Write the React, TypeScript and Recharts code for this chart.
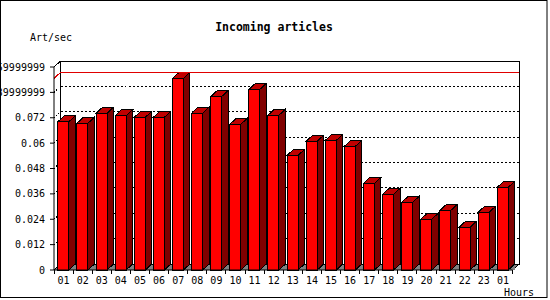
import React from 'react';
import { BarChart, Bar, XAxis, YAxis, CartesianGrid, ReferenceLine, Customized } from 'recharts';

const hours = ['01', '02', '03', '04', '05', '06', '07', '08', '09', '10', '11', '12', '13', '14', '15', '16', '17', '18', '19', '20', '21', '22', '23', '01'];
const rates = [0.0701, 0.0694, 0.0741, 0.073, 0.0722, 0.0722, 0.0906, 0.0741, 0.082, 0.0689, 0.0854, 0.0732, 0.0542, 0.0609, 0.0613, 0.0585, 0.041, 0.0358, 0.032, 0.024, 0.0282, 0.0202, 0.0273, 0.0391];
const yTicks = [0, 0.012, 0.024, 0.036, 0.048, 0.06, 0.072, 0.084, 0.096];
const yTickLabels = ['0', '0.012', '0.024', '0.036', '0.048', '0.06', '0.072', '0.0839999999', '0.0959999999'];
const maxRate = Math.max(...rates);

const data = rates.map((v, i) => ({ idx: i, rate: v }));

const DX = 6.5;
const DY = 6;
const FONT = '"DejaVu Sans Mono", monospace';

const Bar3D = (props: any) => {
  const { x, y, width, height } = props;
  if (width == null || height == null) return null;
  const base = y + height;
  const r = x + width;
  return (
    <g shapeRendering="crispEdges">
      <polygon points={`${r},${base} ${r + DX},${base - DY} ${r + DX},${base}`} fill="#808080" />
      <polygon points={`${r},${y} ${r + DX},${y - DY} ${r + DX},${base - DY} ${r},${base}`} fill="#800000" stroke="#000" strokeWidth={1} />
      <polygon points={`${x},${y} ${x + DX},${y - DY} ${r + DX},${y - DY} ${r},${y}`} fill="#c00000" stroke="#000" strokeWidth={1} />
      <rect x={x} y={y} width={width} height={height} fill="#ff0000" stroke="#000" strokeWidth={1} />
    </g>
  );
};

const GridLine = (p: any) => {
  const { x1, x2, y1, index, y, height } = p;
  const top = y;
  const bottom = y + height;
  const parts: any[] = [];
  if (index === 0) {
    const w = x2 - x1;
    parts.push(
      <polygon key="floor" points={`${x1},${bottom} ${x1 + DX},${bottom - DY} ${x2 + DX},${bottom - DY} ${x2},${bottom}`} fill="#808080" />,
      <rect key="wall" x={x1 + DX} y={top - DY} width={w} height={height} fill="none" stroke="#000" />,
      <line key="d1" x1={x1} y1={top} x2={x1 + DX} y2={top - DY} stroke="#000" />,
      <line key="d2" x1={x2} y1={bottom} x2={x2 + DX} y2={bottom - DY} stroke="#000" />,
      <line key="d3" x1={x1} y1={bottom} x2={x1 + DX} y2={bottom - DY} stroke="#000" />
    );
  }
  if (Math.abs(y1 - top) > 1 && Math.abs(y1 - bottom) > 1) {
    parts.push(
      <line key="g" x1={x1 + DX} y1={y1 - DY} x2={x2 + DX} y2={y1 - DY} stroke="#000" strokeDasharray="2 2" />,
      <line key="gs" x1={x1} y1={y1} x2={x1 + DX} y2={y1 - DY} stroke="#000" strokeDasharray="1 2" />
    );
  }
  return <g key={`gl-${index}`} shapeRendering="crispEdges">{parts}</g>;
};

const MaxLine = (p: any) => {
  const { x1, x2, y1 } = p;
  return (
    <g shapeRendering="crispEdges">
      <line x1={x1 + DX} y1={y1 - DY} x2={x2 + DX} y2={y1 - DY} stroke="#e00000" />
      <line x1={x1} y1={y1} x2={x1 + DX} y2={y1 - DY} stroke="#e00000" />
    </g>
  );
};

const XTick = (props: any) => {
  const { x, y, payload, index } = props;
  const half = payload && payload.offset ? payload.offset : 9.55;
  const axisY = 270;
  return (
    <g shapeRendering="crispEdges">
      <line x1={x - half} y1={axisY} x2={x - half} y2={axisY + 4} stroke="#000" />
      {index === hours.length - 1 ? <line x1={x + half} y1={axisY} x2={x + half} y2={axisY + 4} stroke="#000" /> : null}
      <text x={x} y={284} textAnchor="middle" fontFamily={FONT} fontSize={10} fill="#000">{hours[payload.value]}</text>
    </g>
  );
};

const Labels = () => (
  <g>
    <rect x={0.5} y={0.5} width={546.5} height={297} fill="none" stroke="#000" />
    <text x={274} y={31} textAnchor="middle" fontFamily={FONT} fontWeight="bold" fontSize={11.5} fill="#000">Incoming articles</text>
    <text x={30} y={41} fontFamily={FONT} fontSize={10} fill="#000">Art/sec</text>
    <text x={504} y={296} fontFamily={FONT} fontSize={10} fill="#000">Hours</text>
  </g>
);

export default function App() {
  return (
    <div style={{ position: 'absolute', left: 0, top: 0, width: 550, height: 300, background: '#fff' }}>
      <style>{'body{margin:0;}'}</style>
      <BarChart width={550} height={300} data={data} margin={{ top: 67, right: 37.5, bottom: 0, left: 0 }} barCategoryGap="20%">
        <CartesianGrid horizontal={GridLine as any} vertical={false} />
        <XAxis dataKey="idx" type="category" height={30} tick={<XTick />} tickLine={false} axisLine={{ stroke: '#000' }} interval={0} />
        <YAxis
          width={54}
          domain={[0, 0.096]}
          ticks={yTicks}
          interval={0}
          tickFormatter={(v: number) => {
            const i = yTicks.findIndex((t) => Math.abs(t - v) < 1e-9);
            return i >= 0 ? yTickLabels[i] : String(v);
          }}
          tick={{ fontFamily: FONT, fontSize: 10, fill: '#000' }}
          tickSize={4}
          tickMargin={5}
          tickLine={{ stroke: '#000' }}
          axisLine={{ stroke: '#000' }}
        />
        <ReferenceLine y={maxRate} shape={MaxLine as any} />
        <Bar dataKey="rate" isAnimationActive={false} shape={Bar3D} />
        <Customized component={Labels} />
      </BarChart>
    </div>
  );
}
